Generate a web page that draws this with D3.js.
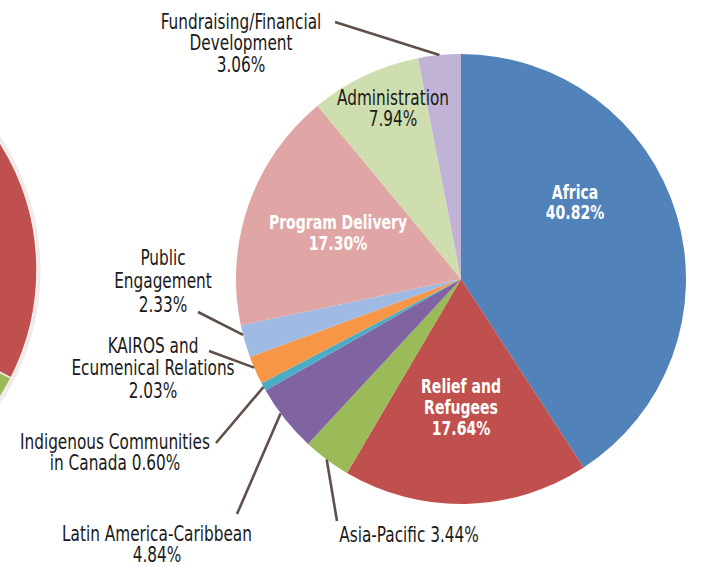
<!DOCTYPE html>
<html>
<head>
<meta charset="utf-8">
<script src="https://cdn.jsdelivr.net/npm/d3@7/dist/d3.min.js"></script>
<style>
  html, body { margin: 0; padding: 0; background: #ffffff; }
  svg { display: block; }
  text { font-family: "DejaVu Sans Condensed", "DejaVu Sans", sans-serif; }
</style>
</head>
<body>
<svg id="chart" width="701" height="567"></svg>
<script>
// ---- data ----
const categories = ["Africa", "Relief and Refugees", "Asia-Pacific", "Latin America-Caribbean",
  "Indigenous Communities in Canada", "KAIROS and Ecumenical Relations", "Public Engagement",
  "Program Delivery", "Administration", "Fundraising/Financial Development"];
const values = [40.82, 17.64, 3.44, 4.84, 0.60, 2.03, 2.33, 17.30, 7.94, 3.06];
const colors = ["#5182b9", "#c0504d", "#9bbb59", "#8064a2", "#4bacc6", "#f79646", "#9fbbe3",
  "#e0a6a5", "#cfdeae", "#c1b3d6"];
const labelLines = [
  ["Africa", "40.82%"],
  ["Relief and", "Refugees", "17.64%"],
  ["Asia-Pacific 3.44%"],
  ["Latin America-Caribbean", "4.84%"],
  ["Indigenous Communities", "in Canada 0.60%"],
  ["KAIROS and", "Ecumenical Relations", "2.03%"],
  ["Public", "Engagement", "2.33%"],
  ["Program Delivery", "17.30%"],
  ["Administration", "7.94%"],
  ["Fundraising/Financial", "Development", "3.06%"]
];
// neighbouring (cropped) pie on the left edge
const sideValues = [32.5, 7.5, 60];
const sideColors = ["#c0504d", "#9bbb59", "#c0504d"];

// ---- layout ----
const svg = d3.select("#chart");
const cx = 461, cy = 279, R = 225;

// side pie
const sidePie = d3.pie().sort(null).value(d => d)(sideValues);
const sideArc = d3.arc().innerRadius(0).outerRadius(238);
const sg = svg.append("g").attr("transform", "translate(-201,270)");
sg.append("circle").attr("r", 240).attr("fill", "none")
  .attr("stroke", "#efe9ec").attr("stroke-width", 3);
sg.selectAll("path").data(sidePie).join("path")
  .attr("d", sideArc)
  .attr("fill", (d, i) => sideColors[i])
  .attr("stroke", "#f4eeee").attr("stroke-width", 1.5);

// main pie
const pie = d3.pie().sort(null).value(d => d);
const arcs = pie(values);
const arc = d3.arc().innerRadius(0).outerRadius(R);
const g = svg.append("g").attr("transform", `translate(${cx},${cy})`);
g.selectAll("path").data(arcs).join("path")
  .attr("d", arc)
  .attr("fill", (d, i) => colors[i]);

const labelCfg = [
  {x: 575, y: 199, lh: 20.5, inside: true},
  {x: 461, y: 393, lh: 21, inside: true},
  {x: 409, y: 542, lh: 21, lead: [337, 521], f: 0.5},
  {x: 157, y: 541, lh: 21, lead: [237, 514], f: 0.6},
  {x: 115, y: 449, lh: 21, lead: [216, 443], f: 0.5},
  {x: 153, y: 353, lh: 22.5, lead: [209, 351], f: 0.6},
  {x: 163, y: 265, lh: 23.5, lead: [198, 312], f: 0.7},
  {x: 338, y: 229, lh: 21, inside: true},
  {x: 393, y: 105, lh: 21, inside: false},
  {x: 241, y: 29, lh: 21.5, lead: [335, 22], f: 0.5}
];

// leader lines
arcs.forEach((d, i) => {
  const c = labelCfg[i];
  if (!c.lead) return;
  const a = d.startAngle + (d.endAngle - d.startAngle) * c.f;
  const ex = cx + R * Math.sin(a), ey = cy - R * Math.cos(a);
  svg.append("line")
    .attr("x1", c.lead[0]).attr("y1", c.lead[1])
    .attr("x2", ex).attr("y2", ey)
    .attr("stroke", "#5e5048").attr("stroke-width", 2.6);
});

// labels (horizontally condensed to mimic the narrow typeface)
labelLines.forEach((lines, i) => {
  const c = labelCfg[i];
  const sx = c.inside ? 0.8 : 0.83;
  const t = svg.append("text")
    .attr("transform", `translate(${c.x},0) scale(${sx},1)`)
    .attr("text-anchor", "middle")
    .attr("font-size", c.inside ? 19.5 : 20.5)
    .attr("font-weight", c.inside ? "bold" : "normal")
    .attr("fill", c.inside ? "#ffffff" : "#1a1a1a");
  lines.forEach((s, k) => {
    t.append("tspan").attr("x", 0).attr("y", c.y + k * c.lh).text(s);
  });
});
</script>
</body>
</html>
